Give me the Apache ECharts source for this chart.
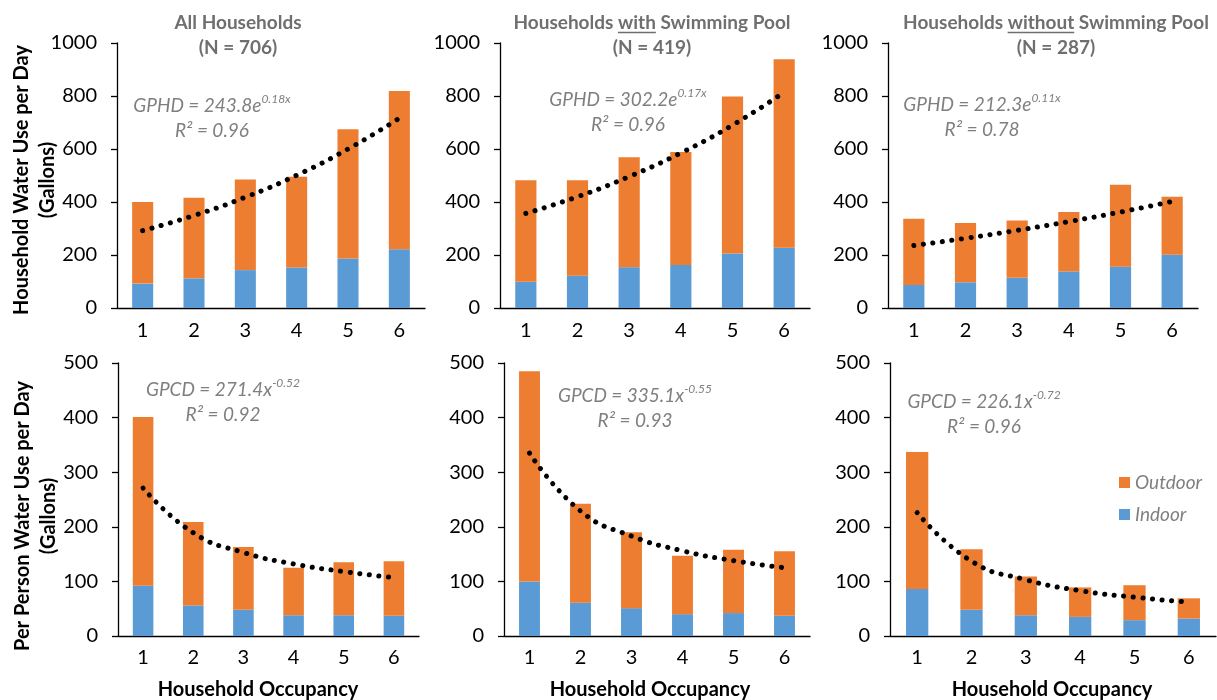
<!DOCTYPE html>
<html><head><meta charset="utf-8">
<script src="https://cdn.jsdelivr.net/npm/echarts/dist/echarts.min.js"></script>
<style>html,body{margin:0;padding:0;background:#fff}#c{width:1217px;height:700px}</style>
</head><body><div id="c"></div>
<script>
// ---------- DATA ----------
const occupancy = ['1', '2', '3', '4', '5', '6'];

// Gallons per household per day
const allHHIndoor   = [92, 112, 143, 153, 187, 222];
const allHHOutdoor  = [308, 304, 342, 342, 488, 597];
const allHHTrend    = [292, 349, 418, 501, 600, 716];

const poolHHIndoor  = [99, 122, 154, 162, 206, 227];
const poolHHOutdoor = [383, 360, 415, 427, 592, 712];
const poolHHTrend   = [357, 420, 496, 585, 690, 814];

const noPoolHHIndoor  = [87, 97, 114, 138, 156, 201];
const noPoolHHOutdoor = [250, 224, 216, 224, 309, 219];
const noPoolHHTrend   = [236, 263, 293, 326, 362, 402];

// Gallons per person per day
const allPCIndoor   = [92, 56, 48, 38, 38, 37];
const allPCOutdoor  = [309, 153, 115, 87, 97, 100];
const allPCTrend    = [271, 189, 153, 132, 118, 107];

const poolPCIndoor  = [100, 61, 51, 40, 42, 37];
const poolPCOutdoor = [385, 181, 139, 107, 116, 118];
const poolPCTrend   = [335, 229, 183, 156, 138, 125];

const noPoolPCIndoor  = [86, 48, 38, 35, 29, 32];
const noPoolPCOutdoor = [251, 111, 71, 54, 64, 37];
const noPoolPCTrend   = [226, 137, 103, 83, 71, 62];

const titleLine1 = ['All Households', 'Households with Swimming Pool', 'Households without Swimming Pool'];
const titleLine2 = ['(N = 706)', '(N = 419)', '(N = 287)'];
const underlined = [null, 'with', 'without'];

const eqMain = ['GPHD = 243.8e', 'GPHD = 302.2e', 'GPHD = 212.3e', 'GPCD = 271.4x', 'GPCD = 335.1x', 'GPCD = 226.1x'];
const eqSup  = ['0.18x', '0.17x', '0.11x', '-0.52', '-0.55', '-0.72'];
const eqR2   = ['R² = 0.96', 'R² = 0.96', 'R² = 0.78', 'R² = 0.92', 'R² = 0.93', 'R² = 0.96'];

const topYTicks = [0, 200, 400, 600, 800, 1000];
const botYTicks = [0, 100, 200, 300, 400, 500];

// ---------- LAYOUT / STYLE ----------
const FONT = 'Lato, "Open Sans", sans-serif';
const ORANGE = '#ED7D31', BLUE = '#5B9BD5';
const GRAY_T = '#6f6f6f', GRAY_E = '#7f7f7f';

const indoor  = [allHHIndoor, poolHHIndoor, noPoolHHIndoor, allPCIndoor, poolPCIndoor, noPoolPCIndoor];
const outdoor = [allHHOutdoor, poolHHOutdoor, noPoolHHOutdoor, allPCOutdoor, poolPCOutdoor, noPoolPCOutdoor];
const trend   = [allHHTrend, poolHHTrend, noPoolHHTrend, allPCTrend, poolPCTrend, noPoolPCTrend];

const grids = [
  {left: 117, top: 43, width: 308, height: 265},
  {left: 500, top: 43, width: 310, height: 265},
  {left: 888, top: 43, width: 310, height: 265},
  {left: 118, top: 363, width: 301, height: 273},
  {left: 504, top: 363, width: 306, height: 273},
  {left: 890, top: 363, width: 326, height: 273}
];
const eqPos = [[212, 118.5], [628, 112.5], [982, 117.5], [223, 402.5], [635, 408], [984, 414.5]];
const titlePos = [238, 652, 1056];

const xAxes = [], yAxes = [], series = [];
grids.forEach((g, i) => {
  const top = i < 3;
  const ticks = top ? topYTicks : botYTicks;
  xAxes.push({
    type: 'category', gridIndex: i, data: occupancy,
    axisLine: {lineStyle: {color: '#000', width: 1.3}},
    axisTick: {show: false},
    axisLabel: {color: '#000', fontSize: 20, fontFamily: FONT, margin: top ? 13 : 12}
  });
  yAxes.push({
    type: 'value', gridIndex: i, min: ticks[0], max: ticks[ticks.length - 1],
    interval: ticks[1] - ticks[0],
    axisLine: {show: true, lineStyle: {color: '#000', width: 1.3}},
    axisTick: {show: true, length: 6, lineStyle: {color: '#000', width: 1.3}},
    splitLine: {show: false},
    axisLabel: {color: '#000', fontSize: 20, fontFamily: FONT, margin: 20,
      formatter: v => String(v)}
  });
  series.push({
    type: 'bar', name: 'Indoor', xAxisIndex: i, yAxisIndex: i, stack: 's' + i,
    data: indoor[i], barWidth: '41%', itemStyle: {color: BLUE}
  });
  series.push({
    type: 'bar', name: 'Outdoor', xAxisIndex: i, yAxisIndex: i, stack: 's' + i,
    data: outdoor[i], barWidth: '41%', itemStyle: {color: ORANGE}
  });
  series.push({
    type: 'line', name: 'Trend ' + (i + 1), xAxisIndex: i, yAxisIndex: i,
    data: trend[i], smooth: true, symbol: 'none', z: 5,
    lineStyle: {color: '#000', width: 5, type: [0.1, 9.5], cap: 'round'}
  });
});

// ---------- graphics (titles, equations, axis titles) ----------
const mctx = document.createElement('canvas').getContext('2d');
function measure(t, font) { mctx.font = font; return mctx.measureText(t).width; }
const titleFont = 'bold 19px ' + FONT;
const axisTitleFont = 'bold 20px ' + FONT;

const graphic = [];
titleLine1.forEach((t, i) => {
  graphic.push({
    type: 'text', x: titlePos[i], y: 35,
    style: {text: t + '\n' + titleLine2[i], fill: GRAY_T, font: titleFont,
      align: 'center', verticalAlign: 'middle', lineHeight: 25}
  });
  if (underlined[i]) {
    const W = measure(t, titleFont);
    const start = titlePos[i] - W / 2;
    const pre = measure('Households ', titleFont);
    const w = measure(underlined[i], titleFont);
    graphic.push({
      type: 'line', shape: {x1: start + pre, y1: 32.5, x2: start + pre + w, y2: 32.5},
      style: {stroke: GRAY_T, lineWidth: 1.5}
    });
  }
});
eqMain.forEach((t, i) => {
  graphic.push({
    type: 'text', x: eqPos[i][0], y: eqPos[i][1],
    style: {
      text: '{a|' + t + '}{s|' + eqSup[i] + '}\n{a|' + eqR2[i] + '}',
      align: 'center', verticalAlign: 'middle',
      rich: {
        a: {fontSize: 19, fontStyle: 'italic', fill: GRAY_E, fontFamily: FONT, lineHeight: 25},
        s: {fontSize: 12, fontStyle: 'italic', fill: GRAY_E, fontFamily: FONT, lineHeight: 12, verticalAlign: 'top'}
      }
    }
  });
});
const yTitles = [['Household Water Use per Day\n(Gallons)', 34.5, 180], ['Per Person Water Use per Day\n(Gallons)', 36, 516]];
yTitles.forEach(([t, x, y]) => {
  graphic.push({
    type: 'text', x: x, y: y, rotation: Math.PI / 2,
    style: {text: t, fill: '#000', font: axisTitleFont, align: 'center', verticalAlign: 'middle', lineHeight: 26}
  });
});
[258, 650, 1052].forEach(x => {
  graphic.push({
    type: 'text', x: x, y: 690,
    style: {text: 'Household Occupancy', fill: '#000', font: axisTitleFont, align: 'center', verticalAlign: 'middle'}
  });
});

const chart = echarts.init(document.getElementById('c'), null, {renderer: 'canvas'});
chart.setOption({
  animation: false,
  backgroundColor: '#fff',
  grid: grids,
  xAxis: xAxes,
  yAxis: yAxes,
  series: series,
  legend: {
    data: ['Outdoor', 'Indoor'], orient: 'vertical', left: 1114, top: 468,
    icon: 'rect', itemWidth: 11, itemHeight: 11, itemGap: 13,
    textStyle: {fontStyle: 'italic', color: GRAY_E, fontSize: 19, fontFamily: FONT}
  },
  graphic: graphic
});
</script></body></html>
